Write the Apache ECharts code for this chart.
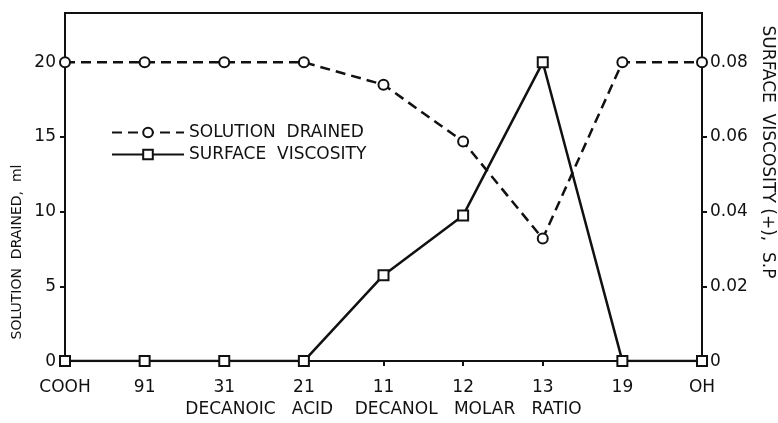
<!DOCTYPE html>
<html>
<head>
    <meta http-equiv="Content-Type" content="text/html; charset=UTF-8" />
    <title>Solution drained / surface viscosity</title>
    <script src="https://cdn.jsdelivr.net/npm/echarts@6/dist/echarts.min.js"></script>
    <style>
        body { margin: 0; background: #fff; }
        #main { width: 778px; height: 423px; }
    </style>
</head>
<body>
<div id="main"></div>
<script type="text/javascript">
    // data
    var categories = ['COOH', '91', '31', '21', '11', '12', '13', '19', 'OH'];
    var drained = [20, 20, 20, 20, 18.5, 14.7, 8.2, 20, 20];
    var viscosity = [0, 0, 0, 0, 0.023, 0.039, 0.08, 0, 0];
    var leftTicks = [0, 5, 10, 15, 20];
    var rightTicks = [0, 0.02, 0.04, 0.06, 0.08];

    var ink = '#111';
    var font = 'DejaVu Sans';

    var myChart = echarts.init(document.getElementById('main'));

    var option = {
        backgroundColor: '#fff',
        animation: false,
        textStyle: { fontFamily: font, color: ink },
        grid: {
            left: 65, right: 76, top: 13, bottom: 56,
            show: true, borderColor: ink, borderWidth: 2
        },
        legend: {
            orient: 'vertical',
            left: 106, top: 119,
            itemWidth: 72, itemHeight: 12, itemGap: 5,
            textStyle: { fontSize: 17, color: ink, fontFamily: font },
            data: ['SOLUTION  DRAINED', 'SURFACE  VISCOSITY']
        },
        xAxis: {
            type: 'category',
            data: categories,
            boundaryGap: false,
            name: 'DECANOIC   ACID    DECANOL   MOLAR   RATIO',
            nameLocation: 'middle',
            nameGap: 39,
            nameTextStyle: { fontSize: 17, color: ink },
            axisLine: { lineStyle: { color: ink, width: 2 } },
            axisTick: { length: 5, lineStyle: { color: ink, width: 2 } },
            axisLabel: { fontSize: 17, color: ink, margin: 18 },
            splitLine: { show: false }
        },
        yAxis: [{
            type: 'value',
            min: 0, max: 23.3,
            position: 'left',
            axisLine: { show: true, lineStyle: { color: ink, width: 2 } },
            axisTick: { show: true, length: 5, customValues: leftTicks, lineStyle: { color: ink, width: 2 } },
            axisLabel: { fontSize: 17, color: ink, margin: 9, customValues: leftTicks },
            splitLine: { show: false }
        }, {
            type: 'value',
            min: 0, max: 0.0932,
            position: 'right',
            axisLine: { show: true, lineStyle: { color: ink, width: 2 } },
            axisTick: { show: true, length: 5, customValues: rightTicks, lineStyle: { color: ink, width: 2 } },
            axisLabel: {
                fontSize: 17, color: ink, margin: 8, customValues: rightTicks,
                formatter: function (v) { return v === 0 ? '0' : v.toFixed(2); }
            },
            splitLine: { show: false }
        }],
        series: [{
            name: 'SOLUTION  DRAINED',
            type: 'line',
            yAxisIndex: 0,
            data: drained,
            symbol: 'emptyCircle',
            symbolSize: 10,
            lineStyle: { color: ink, width: 2.5, type: [10, 6] },
            itemStyle: { color: ink, borderWidth: 2 }
        }, {
            name: 'SURFACE  VISCOSITY',
            type: 'line',
            yAxisIndex: 1,
            data: viscosity,
            symbol: 'emptyRect',
            symbolSize: 10,
            lineStyle: { color: ink, width: 2.5 },
            itemStyle: { color: ink, borderWidth: 2 }
        }],
        graphic: [{
            type: 'text',
            x: 17, y: 252,
            rotation: Math.PI / 2,
            style: {
                text: 'SOLUTION  DRAINED,  ml', fill: ink, font: '14px "DejaVu Sans"',
                align: 'center', verticalAlign: 'middle'
            }
        }, {
            type: 'text',
            x: 767, y: 152,
            rotation: -Math.PI / 2,
            style: {
                text: 'SURFACE  VISCOSITY (+),  S.P', fill: ink, font: '17px "DejaVu Sans"',
                align: 'center', verticalAlign: 'middle'
            }
        }]
    };

    myChart.setOption(option);
</script>
</body>
</html>
